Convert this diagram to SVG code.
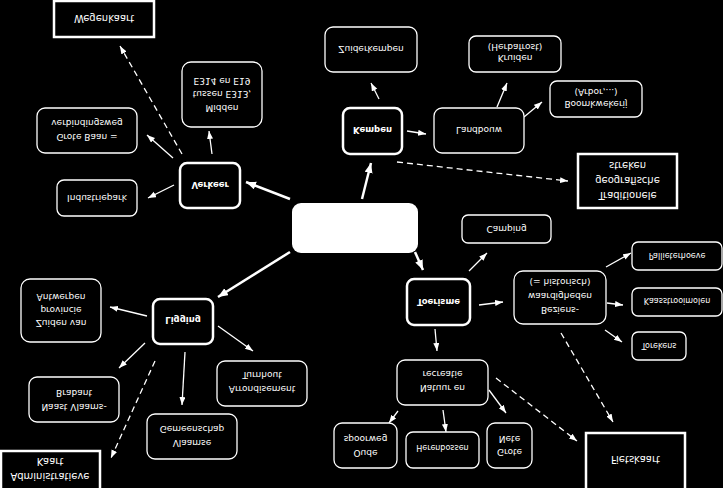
<svg xmlns="http://www.w3.org/2000/svg" width="723" height="488" viewBox="0 0 723 488">
<defs>
<marker id="ah" markerUnits="userSpaceOnUse" markerWidth="9" markerHeight="7" refX="8" refY="3" orient="auto"><path d="M0,0 L8,3 L0,6 z" fill="#fff"/></marker>
<marker id="ahb" markerUnits="userSpaceOnUse" markerWidth="11" markerHeight="9" refX="10" refY="4" orient="auto"><path d="M0,0 L10,4 L0,8 z" fill="#fff"/></marker>
<style>
.bg{fill:#000}
.n{fill:#000;stroke:#fff;stroke-width:1.3}
.nb{fill:#000;stroke:#fff;stroke-width:2.5}
.sq{fill:#000;stroke:#fff;stroke-width:2.5}
.c{fill:#fff;stroke:none}
text{fill:#fff;font-family:"DejaVu Sans",Verdana,sans-serif;text-anchor:middle}
.t10{font-size:10px}
.t9{font-size:9px}
.t8{font-size:8px}
.tb{font-size:8.5px;font-weight:bold}
.l{stroke:#fff;stroke-width:1.3;fill:none;marker-end:url(#ah)}
.lb{stroke:#fff;stroke-width:2.5;fill:none;marker-end:url(#ahb)}
.d{stroke-dasharray:6 4}
</style>
</defs>
<rect class="bg" x="0" y="0" width="723" height="488"/>
<g id="connectors">
<line class="lb" x1="290" y1="199" x2="246" y2="182"/>
<line class="lb" x1="362" y1="199" x2="371" y2="163"/>
<line class="lb" x1="290" y1="252" x2="218" y2="297"/>
<line class="lb" x1="415" y1="252" x2="423" y2="270"/>
<line class="l d" x1="182" y1="154" x2="120" y2="46"/>
<line class="l" x1="173" y1="158" x2="147" y2="135"/>
<line class="l" x1="174" y1="185" x2="148" y2="198"/>
<line class="l" x1="212" y1="154" x2="209" y2="131"/>
<line class="l" x1="379" y1="99" x2="371" y2="83"/>
<line class="l" x1="407" y1="131" x2="426" y2="134"/>
<line class="l" x1="497" y1="107" x2="507" y2="83"/>
<line class="l" x1="524" y1="117" x2="542" y2="102"/>
<line class="l d" x1="397" y1="162" x2="568" y2="181"/>
<line class="l" x1="147" y1="316" x2="110" y2="307"/>
<line class="l" x1="145" y1="343" x2="119" y2="368"/>
<line class="l" x1="185" y1="352" x2="182" y2="405"/>
<line class="l" x1="218" y1="326" x2="253" y2="351"/>
<line class="l d" x1="155" y1="361" x2="111" y2="458"/>
<line class="l" x1="469" y1="271" x2="487" y2="253"/>
<line class="l" x1="479" y1="305" x2="503" y2="302"/>
<line class="l" x1="435" y1="329" x2="437" y2="351"/>
<line class="l" x1="606" y1="267" x2="631" y2="253"/>
<line class="l" x1="607" y1="303" x2="623" y2="305"/>
<line class="l" x1="605" y1="330" x2="622" y2="342"/>
<line class="l d" x1="561" y1="333" x2="613" y2="422"/>
<line class="l" x1="398" y1="411" x2="389" y2="423"/>
<line class="l" x1="443" y1="410" x2="446" y2="432"/>
<line class="l" x1="489" y1="390" x2="506" y2="413"/>
<line class="l d" x1="496" y1="378" x2="577" y2="441"/>
</g>
<g id="center"><rect class="c" x="292" y="203" width="126" height="50" rx="9"/></g>
<g id="verkeer"><rect class="nb" x="180" y="163" width="60" height="45" rx="7"/>
<text class="tb" transform="matrix(1 0 0 -1 210 185)" y="3">Verkeer</text></g>
<g id="wegenkaart"><rect class="sq" x="54" y="1" width="100" height="36"/>
<text class="t10" transform="matrix(1 0 0 -1 104 18)" y="3.5">Wegenkaart</text></g>
<g id="midden"><rect class="n" x="182" y="62" width="80" height="65" rx="9"/>
<text class="t9" transform="matrix(1 0 0 -1 222 108)" y="3.2">Midden</text>
<text class="t9" transform="matrix(1 0 0 -1 222 94)" y="3.2">tussen E313,</text>
<text class="t9" transform="matrix(1 0 0 -1 222 81)" y="3.2">E314 en E19</text></g>
<g id="grotebaan"><rect class="n" x="37" y="108" width="100" height="45" rx="8"/>
<text class="t9" transform="matrix(1 0 0 -1 87 137)" y="3.2">Grote Baan =</text>
<text class="t9" transform="matrix(1 0 0 -1 87 123)" y="3.2">verbindingsweg</text></g>
<g id="industriepark"><rect class="n" x="57" y="180" width="80" height="36" rx="7"/>
<text class="t9" transform="matrix(1 0 0 -1 97 198)" y="3.2">Industriepark</text></g>
<g id="kempen"><rect class="nb" x="343" y="108" width="59" height="46" rx="7"/>
<text class="tb" transform="matrix(1 0 0 -1 372.5 130)" y="3">Kempen</text></g>
<g id="zuiderkempen"><rect class="n" x="325" y="27" width="92" height="45" rx="8"/>
<text class="t9" transform="matrix(1 0 0 -1 371 49)" y="3.2">Zuiderkempen</text></g>
<g id="landbouw"><rect class="n" x="434" y="108" width="90" height="45" rx="8"/>
<text class="t9" transform="matrix(1 0 0 -1 479 130)" y="3.2">Landbouw</text></g>
<g id="kruiden"><rect class="n" x="469" y="36" width="92" height="36" rx="7"/>
<text class="t9" transform="matrix(1 0 0 -1 515 58)" y="3.2">Kruiden</text>
<text class="t9" transform="matrix(1 0 0 -1 515 47)" y="3.2">(Herbafrost)</text></g>
<g id="boomkwekerij"><rect class="n" x="550" y="81" width="92" height="36" rx="7"/>
<text class="t9" transform="matrix(1 0 0 -1 596 104)" y="3.2">Boomkwekerij</text>
<text class="t9" transform="matrix(1 0 0 -1 596 92)" y="3.2">(Arbor,...)</text></g>
<g id="traditionele"><rect class="sq" x="578" y="154" width="99" height="54"/>
<text class="t10" transform="matrix(1 0 0 -1 627.5 195)" y="3.5">Traditionele</text>
<text class="t10" transform="matrix(1 0 0 -1 627.5 180)" y="3.5">geografische</text>
<text class="t10" transform="matrix(1 0 0 -1 627.5 165)" y="3.5">streken</text></g>
<g id="ligging"><rect class="nb" x="153" y="299" width="60" height="45" rx="7"/>
<text class="tb" transform="matrix(1 0 0 -1 183 320)" y="3">Ligging</text></g>
<g id="zuiden"><rect class="n" x="21" y="279" width="80" height="63" rx="9"/>
<text class="t9" transform="matrix(1 0 0 -1 61 323)" y="3.2">Zuiden van</text>
<text class="t9" transform="matrix(1 0 0 -1 61 310)" y="3.2">provincie</text>
<text class="t9" transform="matrix(1 0 0 -1 61 297)" y="3.2">Antwerpen</text></g>
<g id="naast"><rect class="n" x="29" y="377" width="90" height="45" rx="8"/>
<text class="t9" transform="matrix(1 0 0 -1 74 407)" y="3.2">Naast Vlaams-</text>
<text class="t9" transform="matrix(1 0 0 -1 74 393)" y="3.2">Brabant</text></g>
<g id="vlaamse"><rect class="n" x="147" y="414" width="90" height="45" rx="8"/>
<text class="t9" transform="matrix(1 0 0 -1 192 443)" y="3.2">Vlaamse</text>
<text class="t9" transform="matrix(1 0 0 -1 192 429)" y="3.2">Gemeenschap</text></g>
<g id="arrondisement"><rect class="n" x="217" y="361" width="90" height="45" rx="8"/>
<text class="t9" transform="matrix(1 0 0 -1 262 389)" y="3.2">Arrondisement</text>
<text class="t9" transform="matrix(1 0 0 -1 262 375)" y="3.2">Turnhout</text></g>
<g id="administratieve"><rect class="sq" x="1" y="451" width="99" height="45"/>
<text class="t10" transform="matrix(1 0 0 -1 50 476)" y="3.5">Administratieve</text>
<text class="t10" transform="matrix(1 0 0 -1 50 461)" y="3.5">Kaart</text></g>
<g id="toerisme"><rect class="nb" x="407" y="279" width="63" height="46" rx="7"/>
<text class="tb" transform="matrix(1 0 0 -1 438.5 302)" y="3">Toerisme</text></g>
<g id="camping"><rect class="n" x="462" y="215" width="89" height="28" rx="6"/>
<text class="t9" transform="matrix(1 0 0 -1 506.5 229)" y="3.2">Camping</text></g>
<g id="bezienswaardigheden"><rect class="n" x="514" y="271" width="92" height="53" rx="9"/>
<text class="t9" transform="matrix(1 0 0 -1 560 310)" y="3.2">Beziens-</text>
<text class="t9" transform="matrix(1 0 0 -1 560 296)" y="3.2">waardigheden</text>
<text class="t9" transform="matrix(1 0 0 -1 560 282)" y="3.2">(= historisch)</text></g>
<g id="pallieterhoeve"><rect class="n" x="632" y="242" width="90" height="28" rx="6"/>
<text class="t8" transform="matrix(1 0 0 -1 677 256)" y="2.8">Pallieterhoeve</text></g>
<g id="kaasstrooimolen"><rect class="n" x="632" y="288" width="90" height="28" rx="6"/>
<text class="t8" transform="matrix(1 0 0 -1 677 301)" y="2.8">Kaasstrooimolen</text></g>
<g id="torekens"><rect class="n" x="632" y="332" width="54" height="28" rx="6"/>
<text class="t8" transform="matrix(1 0 0 -1 659 346)" y="2.8">Torekens</text></g>
<g id="natuur"><rect class="n" x="397" y="360" width="91" height="45" rx="8"/>
<text class="t9" transform="matrix(1 0 0 -1 442.5 388)" y="3.2">Natuur en</text>
<text class="t9" transform="matrix(1 0 0 -1 442.5 374)" y="3.2">recreatie</text></g>
<g id="oude"><rect class="n" x="334" y="423" width="63" height="45" rx="8"/>
<text class="t9" transform="matrix(1 0 0 -1 365.5 453)" y="3.2">Oude</text>
<text class="t9" transform="matrix(1 0 0 -1 365.5 439)" y="3.2">spoorweg</text></g>
<g id="herenbossen"><rect class="n" x="406" y="432" width="73" height="36" rx="7"/>
<text class="t8" transform="matrix(1 0 0 -1 442.5 448)" y="2.8">Herenbossen</text></g>
<g id="grotenete"><rect class="n" x="487" y="423" width="45" height="45" rx="8"/>
<text class="t9" transform="matrix(1 0 0 -1 509.5 452)" y="3.2">Grote</text>
<text class="t9" transform="matrix(1 0 0 -1 509.5 439)" y="3.2">Nete</text></g>
<g id="fietskaart"><rect class="sq" x="586" y="433" width="99" height="60"/>
<text class="t10" transform="matrix(1 0 0 -1 635.5 459)" y="3.5">Fietskaart</text></g>
</svg>
